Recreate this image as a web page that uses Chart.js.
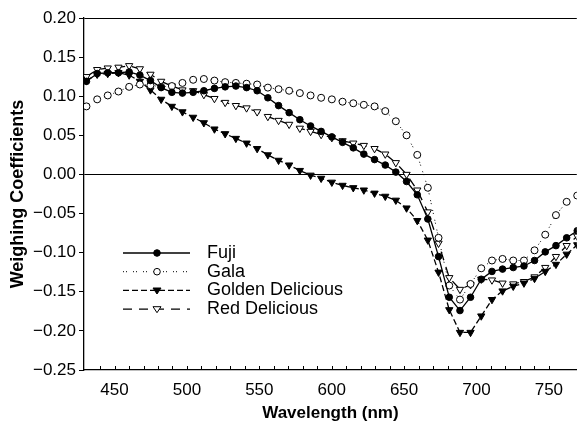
<!DOCTYPE html>
<html>
<head>
<meta charset="utf-8">
<script src="https://cdn.jsdelivr.net/npm/chart.js@4.4.1/dist/chart.umd.min.js"></script>
<style>
  html, body { margin: 0; padding: 0; background: #fff; }
</style>
</head>
<body>
<canvas id="chart" width="582" height="434"></canvas>
<script>
// --------------------------------
// Data
// --------------------------------

const wavelengths = [
    430.6, 438.0, 445.3, 452.7, 460.1, 467.5, 474.8, 482.2, 489.6, 496.9,
    504.3, 511.7, 519.0, 526.4, 533.8, 541.2, 548.5, 555.9, 563.3, 570.6,
    578.0, 585.4, 592.7, 600.1, 607.5, 614.9, 622.2, 629.6, 637.0, 644.3,
    651.7, 659.1, 666.4, 673.8, 681.2, 688.6, 695.9, 703.3, 710.7, 718.0,
    725.4, 732.8, 740.1, 747.5, 754.9, 762.3, 769.6
];

const fuji = [
    0.119, 0.129, 0.130, 0.130, 0.131, 0.127, 0.120, 0.111, 0.105, 0.104,
    0.105, 0.107, 0.110, 0.112, 0.113, 0.111, 0.107, 0.098, 0.088, 0.079,
    0.070, 0.062, 0.055, 0.048, 0.041, 0.034, 0.026, 0.019, 0.012, 0.003,
    -0.009, -0.026, -0.057, -0.105, -0.157, -0.174, -0.157, -0.134, -0.124, -0.121,
    -0.119, -0.117, -0.110, -0.099, -0.091, -0.081, -0.072
];

const gala = [
    0.087, 0.096, 0.101, 0.106, 0.112, 0.115, 0.114, 0.112, 0.113, 0.117,
    0.121, 0.122, 0.120, 0.118, 0.117, 0.116, 0.115, 0.111, 0.109, 0.107,
    0.104, 0.101, 0.098, 0.096, 0.093, 0.091, 0.089, 0.087, 0.081, 0.068,
    0.050, 0.025, -0.017, -0.081, -0.142, -0.160, -0.140, -0.120, -0.110, -0.108,
    -0.110, -0.110, -0.097, -0.077, -0.052, -0.035, -0.027
];

const golden = [
    0.120, 0.128, 0.129, 0.130, 0.127, 0.119, 0.108, 0.096, 0.087, 0.080,
    0.073, 0.066, 0.058, 0.052, 0.046, 0.040, 0.033, 0.025, 0.018, 0.012,
    0.005, -0.001, -0.005, -0.010, -0.014, -0.017, -0.020, -0.024, -0.028, -0.033,
    -0.043, -0.059, -0.084, -0.125, -0.173, -0.202, -0.202, -0.181, -0.160, -0.149,
    -0.143, -0.139, -0.133, -0.124, -0.115, -0.102, -0.090
];

const redDelicious = [
    0.125, 0.134, 0.136, 0.137, 0.139, 0.135, 0.128, 0.119, 0.113, 0.108,
    0.107, 0.102, 0.097, 0.092, 0.088, 0.085, 0.080, 0.074, 0.069, 0.064,
    0.059, 0.055, 0.051, 0.047, 0.043, 0.040, 0.037, 0.033, 0.026, 0.015,
    0.000, -0.020, -0.048, -0.088, -0.132, -0.147, -0.141, -0.134, -0.135, -0.139,
    -0.140, -0.137, -0.131, -0.119, -0.105, -0.091, -0.079
];

const seriesNames = ['Fuji', 'Gala', 'Golden Delicious', 'Red Delicious'];
const xLabelTicks = [450, 500, 550, 600, 650, 700, 750];
const yMin = -0.25;
const yMax = 0.20;

// --------------------------------
// Helpers
// --------------------------------

function toPoints(values) {
    return values.map((v, i) => ({ x: wavelengths[i], y: v }));
}

function near(a, b) {
    return Math.abs(a - b) < 1e-6;
}

// x ticks in the original point up into the plot
const xTickMarks = {
    id: 'xTickMarks',
    afterDatasetsDraw(chart) {
        const xs = chart.scales.x;
        const ctx = chart.ctx;
        const yb = chart.chartArea.bottom;
        ctx.save();
        ctx.strokeStyle = '#000';
        ctx.lineWidth = 1;
        xs.ticks.forEach(t => {
            const px = Math.round(xs.getPixelForValue(t.value)) + 0.5;
            ctx.beginPath();
            ctx.moveTo(px, yb);
            ctx.lineTo(px, yb - 4);
            ctx.stroke();
        });
        ctx.restore();
    }
};

// legend drawn by hand: line sample with marker in the middle, like the original figure
const handLegend = {
    id: 'handLegend',
    afterDraw(chart) {
        const ctx = chart.ctx;
        const x1 = 123, x2 = 190, xm = 157, xt = 207;
        chart.data.datasets.forEach((ds, i) => {
            const y = 253 + i * 18.7;
            ctx.save();
            ctx.strokeStyle = '#000';
            ctx.lineWidth = ds.borderWidth;
            ctx.setLineDash(ds.borderDash || []);
            ctx.beginPath();
            ctx.moveTo(x1, y);
            ctx.lineTo(x2, y);
            ctx.stroke();
            ctx.setLineDash([]);

            ctx.lineWidth = 1;
            ctx.fillStyle = ds.pointBackgroundColor;
            ctx.beginPath();
            if (ds.pointStyle === 'circle') {
                ctx.arc(xm, y, 3.3, 0, Math.PI * 2);
            } else {
                const r = 4;
                ctx.moveTo(xm - r, y - r * 0.6);
                ctx.lineTo(xm + r, y - r * 0.6);
                ctx.lineTo(xm, y + r * 0.9);
                ctx.closePath();
            }
            ctx.fill();
            ctx.stroke();

            ctx.fillStyle = '#000';
            ctx.font = '18px "Liberation Sans", Arial, sans-serif';
            ctx.textBaseline = 'middle';
            ctx.textAlign = 'left';
            ctx.fillText(seriesNames[i], xt, y);
            ctx.restore();
        });
    }
};

// --------------------------------
// Chart
// --------------------------------

const tickFont = { family: '"Liberation Sans", Arial, sans-serif', size: 17 };

const chart = new Chart(document.getElementById('chart'), {
    type: 'line',
    data: {
        datasets: [{
            label: seriesNames[0],
            data: toPoints(fuji),
            borderColor: '#000',
            borderWidth: 1.3,
            pointStyle: 'circle',
            pointRadius: 3.3,
            pointBackgroundColor: '#000',
            pointBorderColor: '#000',
            pointBorderWidth: 1
        }, {
            label: seriesNames[1],
            data: toPoints(gala),
            borderColor: '#000',
            borderWidth: 1,
            borderDash: [1, 2, 1, 6],
            pointStyle: 'circle',
            pointRadius: 3.5,
            pointBackgroundColor: '#fff',
            pointBorderColor: '#000',
            pointBorderWidth: 1
        }, {
            label: seriesNames[2],
            data: toPoints(golden),
            borderColor: '#000',
            borderWidth: 1.3,
            borderDash: [6, 3],
            pointStyle: 'triangle',
            rotation: 180,
            pointRadius: 4.2,
            pointBackgroundColor: '#000',
            pointBorderColor: '#000',
            pointBorderWidth: 1
        }, {
            label: seriesNames[3],
            data: toPoints(redDelicious),
            borderColor: '#000',
            borderWidth: 1.3,
            borderDash: [9, 7],
            pointStyle: 'triangle',
            rotation: 180,
            pointRadius: 4.2,
            pointBackgroundColor: '#fff',
            pointBorderColor: '#000',
            pointBorderWidth: 1
        }]
    },
    options: {
        responsive: false,
        animation: false,
        layout: { padding: { top: 18, right: 0, left: 0, bottom: 0 } },
        plugins: {
            legend: { display: false },
            tooltip: { enabled: false }
        },
        scales: {
            x: {
                type: 'linear',
                min: 428.9,
                max: 769.3,
                afterFit: scale => { scale.height = 64; },
                afterBuildTicks: scale => {
                    scale.ticks = scale.ticks.filter(t => near(t.value / 10, Math.round(t.value / 10)));
                },
                ticks: {
                    stepSize: 10,
                    autoSkip: false,
                    maxRotation: 0,
                    padding: 10,
                    color: '#000',
                    font: tickFont,
                    callback: v => xLabelTicks.some(t => near(t, v)) ? Math.round(v) : ''
                },
                grid: {
                    drawOnChartArea: false,
                    drawTicks: false
                },
                border: { display: true, color: '#000', width: 1.3 },
                title: {
                    display: true,
                    text: 'Wavelength (nm)',
                    color: '#000',
                    font: { family: '"Liberation Sans", Arial, sans-serif', size: 17, weight: 'bold' },
                    padding: { top: 0, bottom: 10 }
                }
            },
            y: {
                min: yMin,
                max: yMax,
                afterFit: scale => { scale.width = 84; },
                ticks: {
                    stepSize: 0.05,
                    padding: 3,
                    color: '#000',
                    font: tickFont,
                    callback: v => {
                        if (near(v, 0)) return '0.00';
                        return v.toFixed(2).replace('-', '\u2212');
                    }
                },
                grid: {
                    color: c => (c.tick && (near(c.tick.value, 0) || near(c.tick.value, yMax))) ? '#000' : 'rgba(0,0,0,0)',
                    tickColor: '#000',
                    tickLength: 5,
                    lineWidth: 1
                },
                border: { display: true, color: '#000', width: 1.3 },
                title: {
                    display: true,
                    text: 'Weighing Coefficients',
                    color: '#000',
                    font: { family: '"Liberation Sans", Arial, sans-serif', size: 18, weight: 'bold' },
                    padding: { top: 7, bottom: 0 }
                }
            }
        }
    },
    plugins: [xTickMarks, handLegend]
});
</script>
</body>
</html>
